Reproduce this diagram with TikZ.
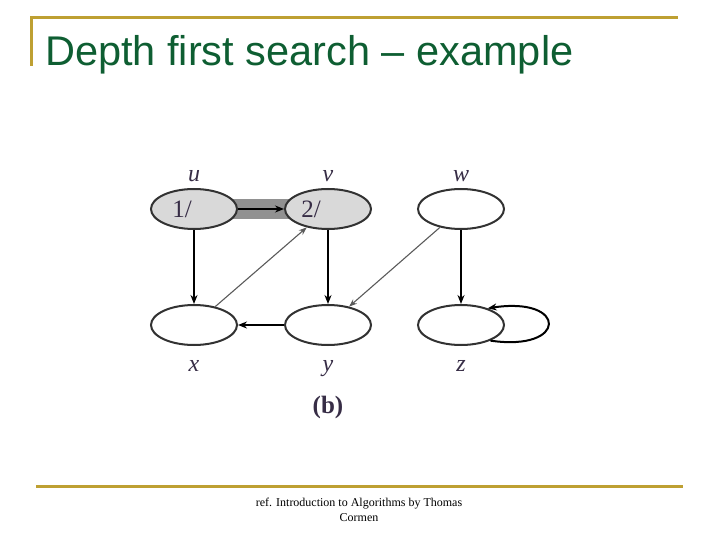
\documentclass[tikz,border=0pt]{standalone}
\usepackage{fontspec}
\setmainfont{Liberation Serif}
\newfontfamily\titlefont{Liberation Sans}
\usetikzlibrary{shapes.geometric,arrows.meta,backgrounds}
\definecolor{gold}{RGB}{190,160,50}
\definecolor{titlegreen}{RGB}{14,94,50}
\definecolor{nodefill}{RGB}{217,217,217}
\definecolor{rim}{RGB}{50,50,50}
\definecolor{bandgray}{RGB}{145,145,145}
\definecolor{thingray}{RGB}{90,90,90}
\definecolor{lblcol}{RGB}{55,45,70}
\tikzset{
  vert/.style={ellipse,draw=rim,line width=2pt,minimum width=86pt,minimum height=40pt,inner sep=0pt},
  grayvert/.style={vert,fill=nodefill},
  treeedge/.style={line width=2.2pt,black,-{Stealth[length=9pt,width=7pt]}},
  thinedge/.style={line width=1.1pt,thingray,-{Stealth[length=8pt,width=6pt]}},
  vname/.style={font=\fontsize{24}{24}\selectfont\itshape,text=lblcol,anchor=base,inner sep=0pt},
  stamp/.style={font=\fontsize{25}{25}\selectfont,text=lblcol},
  rule/.style={gold,line width=3pt}
}
\begin{document}
\begin{tikzpicture}[x=1pt,y=-1pt]
\useasboundingbox (0,0) rectangle (720,540);
% frame rules
\coordinate (tl) at (30,18);
\coordinate (tr) at (678,18);
\coordinate (vt) at (31.5,17);
\coordinate (vl) at (31.5,66);
\draw[rule] (tl) -- (tr);
\draw[rule,line width=2.5pt] (vt) -- (vl);
\coordinate (bl) at (36,486);
\coordinate (br) at (683,486);
\draw[rule] (bl) -- (br);
% title
\node[anchor=base west,inner sep=0pt,text=titlegreen,font=\titlefont\fontsize{41.5}{41.5}\selectfont] (title) at (45,66) {Depth first search – example};
% vertices
\node[grayvert,label={[stamp,xshift=-12pt]center:1/}] (u) at (194,209) {};
\node[grayvert,label={[stamp,xshift=-17pt]center:2/}] (v) at (328,209) {};
\node[vert] (w) at (461,209) {};
\node[vert] (x) at (194,325) {};
\node[vert] (y) at (328,325) {};
\node[vert] (z) at (461,325) {};
% vertex names
\node[vname] (lu) at (194,182) {u};
\node[vname] (lv) at (328,182) {v};
\node[vname] (lw) at (461,182) {w};
\node[vname] (lx) at (194,371) {x};
\node[vname] (ly) at (328,371) {y};
\node[vname] (lz) at (461,371) {z};
\node[font=\fontsize{25}{25}\selectfont\bfseries,text=lblcol] (cap) at (328,407) {(b)};
% edges
\begin{scope}[on background layer]
\draw[bandgray,line width=20pt] (u.center) -- (v.center);
\end{scope}
\draw[treeedge] (u) -- (v);
\draw[treeedge] (u) -- (x);
\draw[treeedge] (v) -- (y);
\draw[treeedge] (w) -- (z);
\draw[treeedge] (y) -- (x);
\draw[thinedge] (x) -- (v);
\draw[thinedge] (w) -- (y);
\draw[line width=2pt,black,-{Stealth[length=9pt,width=7pt]}] (z.-28) .. controls (568,352) and (568,296) .. (z.32);
% footer
\node[font=\fontsize{12}{15}\selectfont,align=center] (ref) at (359,510) {ref. Introduction to Algorithms by Thomas\\Cormen};
\end{tikzpicture}
\end{document}
